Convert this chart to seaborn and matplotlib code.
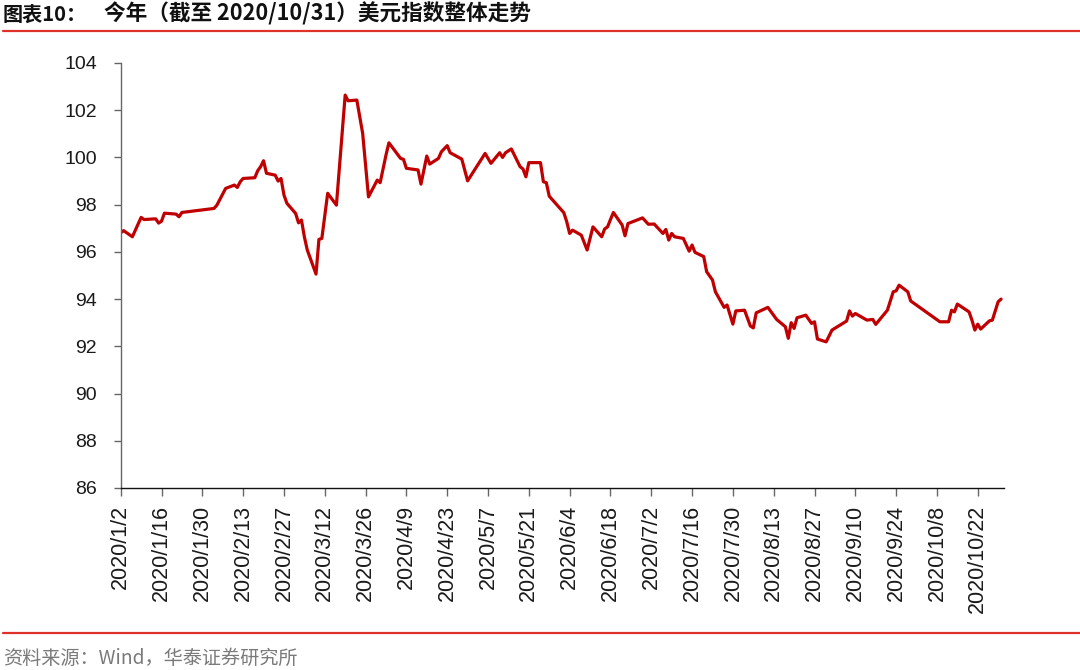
import matplotlib
matplotlib.use("Agg")
import matplotlib.pyplot as plt
from matplotlib.lines import Line2D
import seaborn as sns
import pandas as pd

# ---------------- data ----------------
dates = [
    "2020-01-02", "2020-01-03", "2020-01-06", "2020-01-09", "2020-01-10", "2020-01-14",
    "2020-01-15", "2020-01-16", "2020-01-17", "2020-01-21", "2020-01-22", "2020-01-23",
    "2020-02-03", "2020-02-04", "2020-02-07", "2020-02-10", "2020-02-11", "2020-02-12",
    "2020-02-13", "2020-02-17", "2020-02-18", "2020-02-19", "2020-02-20", "2020-02-21",
    "2020-02-24", "2020-02-25", "2020-02-26", "2020-02-27", "2020-02-28", "2020-03-02",
    "2020-03-03", "2020-03-04", "2020-03-05", "2020-03-06", "2020-03-09", "2020-03-10",
    "2020-03-11", "2020-03-13", "2020-03-16", "2020-03-19", "2020-03-20", "2020-03-23",
    "2020-03-25", "2020-03-27", "2020-03-30", "2020-03-31", "2020-04-02", "2020-04-03",
    "2020-04-07", "2020-04-08", "2020-04-09", "2020-04-13", "2020-04-14", "2020-04-16",
    "2020-04-17", "2020-04-20", "2020-04-21", "2020-04-23", "2020-04-24", "2020-04-28",
    "2020-04-30", "2020-05-06", "2020-05-08", "2020-05-11", "2020-05-12", "2020-05-13",
    "2020-05-15", "2020-05-18", "2020-05-19", "2020-05-20", "2020-05-21", "2020-05-25",
    "2020-05-26", "2020-05-27", "2020-05-28", "2020-06-02", "2020-06-03", "2020-06-04",
    "2020-06-05", "2020-06-08", "2020-06-10", "2020-06-11", "2020-06-12", "2020-06-15",
    "2020-06-16", "2020-06-17", "2020-06-19", "2020-06-22", "2020-06-23", "2020-06-24",
    "2020-06-29", "2020-07-01", "2020-07-03", "2020-07-06", "2020-07-07", "2020-07-08",
    "2020-07-09", "2020-07-10", "2020-07-13", "2020-07-15", "2020-07-16", "2020-07-17",
    "2020-07-20", "2020-07-21", "2020-07-23", "2020-07-24", "2020-07-27", "2020-07-28",
    "2020-07-30", "2020-07-31", "2020-08-03", "2020-08-05", "2020-08-06", "2020-08-07",
    "2020-08-11", "2020-08-14", "2020-08-17", "2020-08-18", "2020-08-19", "2020-08-20",
    "2020-08-21", "2020-08-24", "2020-08-26", "2020-08-27", "2020-08-28", "2020-08-31",
    "2020-09-02", "2020-09-07", "2020-09-08", "2020-09-09", "2020-09-10", "2020-09-14",
    "2020-09-16", "2020-09-17", "2020-09-21", "2020-09-23", "2020-09-24", "2020-09-25",
    "2020-09-28", "2020-09-29", "2020-10-09", "2020-10-12", "2020-10-13", "2020-10-14",
    "2020-10-15", "2020-10-19", "2020-10-20", "2020-10-21", "2020-10-22", "2020-10-23",
    "2020-10-26", "2020-10-27", "2020-10-29", "2020-10-30",
]
dxy_values = [
    96.81, 96.90, 96.64, 97.46, 97.37, 97.40,
    97.22, 97.30, 97.64, 97.60, 97.49, 97.67,
    97.84, 97.98, 98.69, 98.83, 98.73, 98.97,
    99.11, 99.14, 99.44, 99.61, 99.86, 99.33,
    99.25, 99.00, 99.11, 98.41, 98.06, 97.63,
    97.23, 97.35, 96.64, 96.08, 95.06, 96.53,
    96.57, 98.48, 97.98, 102.64, 102.40, 102.43,
    101.02, 98.33, 99.04, 98.93, 100.10, 100.62,
    99.96, 99.92, 99.54, 99.47, 98.87, 100.06,
    99.72, 99.96, 100.24, 100.50, 100.20, 99.93,
    99.01, 100.17, 99.75, 100.20, 100.00, 100.20,
    100.36, 99.61, 99.51, 99.18, 99.78, 99.78,
    98.97, 98.93, 98.36, 97.66, 97.28, 96.78,
    96.92, 96.71, 96.08, 96.57, 97.06, 96.64,
    96.97, 97.06, 97.67, 97.14, 96.68, 97.20,
    97.44, 97.17, 97.18, 96.78, 96.95, 96.50,
    96.78, 96.64, 96.57, 96.03, 96.29, 95.98,
    95.80, 95.16, 94.81, 94.31, 93.65, 93.75,
    92.94, 93.50, 93.53, 92.86, 92.78, 93.42,
    93.65, 93.14, 92.83, 92.34, 93.00, 92.76,
    93.21, 93.32, 92.97, 93.04, 92.31, 92.19,
    92.69, 93.07, 93.50, 93.28, 93.39, 93.11,
    93.14, 92.93, 93.53, 94.31, 94.35, 94.59,
    94.31, 93.92, 93.04, 93.04, 93.53, 93.46,
    93.79, 93.46, 93.11, 92.69, 92.94, 92.73,
    93.08, 93.11, 93.89, 94.00,
]
x_tick_dates = [
    "2020-01-02", "2020-01-16", "2020-01-30", "2020-02-13", "2020-02-27", "2020-03-12",
    "2020-03-26", "2020-04-09", "2020-04-23", "2020-05-07", "2020-05-21", "2020-06-04",
    "2020-06-18", "2020-07-02", "2020-07-16", "2020-07-30", "2020-08-13", "2020-08-27",
    "2020-09-10", "2020-09-24", "2020-10-08", "2020-10-22",
]
y_ticks = [86, 88, 90, 92, 94, 96, 98, 100, 102, 104]
title_label = "图表10："
title_text = "今年（截至 2020/10/31）美元指数整体走势"
source_text = "资料来源：Wind，华泰证券研究所"

# ---------------- style ----------------
sns.set_theme(style="white")
plt.rcParams['font.family'] = ['Liberation Sans', 'Noto Sans CJK SC', 'DejaVu Sans']

df = pd.DataFrame({"date": pd.to_datetime(dates), "value": dxy_values})

W, H = 1080, 670
fig = plt.figure(figsize=(W / 100, H / 100), dpi=100)
fig.patch.set_facecolor("white")
ax_left, ax_right, ax_top, ax_bottom = 120.7, 1004, 63, 488
ax = fig.add_axes([ax_left / W, 1 - ax_bottom / H, (ax_right - ax_left) / W, (ax_bottom - ax_top) / H])

sns.lineplot(data=df, x="date", y="value", ax=ax, color="#C00000", linewidth=2.3)

ax.set_xlim(pd.Timestamp("2020-01-02"), pd.Timestamp("2020-10-31"))
ax.set_ylim(86, 104)
ax.set_yticks(y_ticks)
ax.set_yticklabels([str(v) for v in y_ticks])
tick_ts = pd.to_datetime(x_tick_dates)
ax.set_xticks(tick_ts)
ax.set_xticklabels([f"{d.year}/{d.month}/{d.day}" for d in tick_ts], rotation=90, va="top")
ax.set_xlabel("")
ax.set_ylabel("")
ax.grid(False)

for s in ["top", "right"]:
    ax.spines[s].set_visible(False)
ax.spines["left"].set_color("#666666")
ax.spines["left"].set_linewidth(1.0)
ax.spines["bottom"].set_color("#111111")
ax.spines["bottom"].set_linewidth(1.0)

ax.tick_params(axis="y", direction="out", length=5, width=1, color="#666666",
               labelsize=14, labelcolor="#1a1a1a", pad=12, left=True)
ax.tick_params(axis="x", direction="out", length=6, width=1, color="#666666",
               labelsize=15.5, labelcolor="#1a1a1a", pad=6, bottom=True)
for lab in ax.get_xticklabels() + ax.get_yticklabels():
    lab.set_fontfamily(['Liberation Sans', 'DejaVu Sans'])

# ---------------- title / source ----------------
cjk = ['Noto Sans CJK SC', 'DejaVu Sans']
fig.text(3 / W, 1 - 14 / H, title_label, family=cjk, fontsize=14.5, fontweight="bold",
         color="#111111", va="center", ha="left")
fig.text(104 / W, 1 - 14 / H, title_text, family=cjk, fontsize=15.6, fontweight="bold",
         color="#111111", va="center", ha="left")
fig.add_artist(Line2D([3 / W, 1.0], [1 - 31 / H, 1 - 31 / H], transform=fig.transFigure,
                      color="#E0302A", linewidth=1.6))
fig.add_artist(Line2D([3 / W, 1.0], [1 - 633 / H, 1 - 633 / H], transform=fig.transFigure,
                      color="#E0302A", linewidth=1.6))
fig.text(3 / W, 1 - 658 / H, source_text, family=cjk, fontsize=13.8, color="#7a7a7a",
         va="center", ha="left")

fig.savefig("out.png", dpi=100, facecolor="white")
